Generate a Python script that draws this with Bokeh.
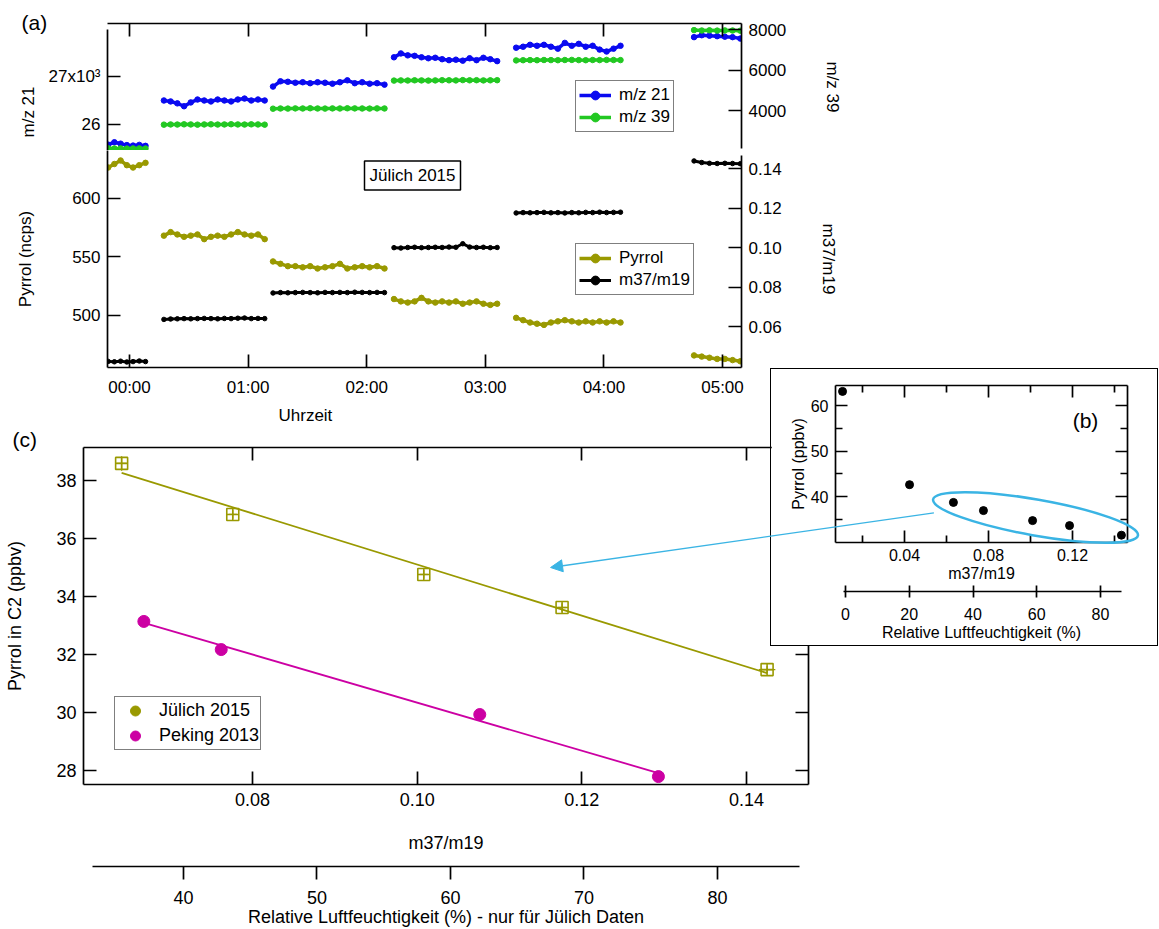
import numpy as np
from bokeh.plotting import figure
from bokeh.models import (Range1d, LinearAxis, FixedTicker, NumeralTickFormatter, Legend,
                          LegendItem, Label, Arrow, NormalHead, Whisker, ColumnDataSource, Title)
from bokeh.layouts import column, row
from bokeh.embed import file_html
from bokeh.resources import INLINE

FONT = "Liberation Sans"

# ---------------- data: panel (a) time series ----------------
seg_start = [-0.18, 0.29, 1.21, 2.23, 3.26, 4.76]     # hours
seg_end = [0.135, 1.14, 2.15, 3.10, 4.14, 5.15]

mz21 = [
    [25580, 25630, 25600, 25570, 25560, 25575, 25555],
    [26500, 26480, 26440, 26380, 26460, 26520, 26500, 26480, 26520, 26500, 26480, 26520, 26540, 26500, 26520, 26500],
    [26790, 26900, 26890, 26870, 26880, 26860, 26880, 26870, 26850, 26880, 26920, 26860, 26880, 26850, 26860, 26830],
    [27400, 27480, 27440, 27430, 27400, 27380, 27390, 27360, 27340, 27350, 27330, 27380, 27340, 27390, 27360, 27320],
    [27600, 27620, 27660, 27640, 27660, 27620, 27580, 27700, 27640, 27680, 27620, 27640, 27560, 27520, 27580, 27640],
    [27820, 27860, 27850, 27840, 27830, 27820, 27790],
]
mz39 = [
    [2130, 2120, 2125, 2115, 2120, 2125, 2118],
    [3300, 3310, 3305, 3315, 3310, 3300, 3310, 3315, 3305, 3310, 3320, 3310, 3305, 3315, 3310, 3300],
    [4090, 4100, 4095, 4105, 4100, 4110, 4100, 4095, 4105, 4100, 4110, 4105, 4100, 4095, 4105, 4100],
    [5480, 5490, 5485, 5495, 5490, 5480, 5490, 5500, 5495, 5490, 5505, 5495, 5500, 5490, 5495, 5500],
    [6480, 6490, 6495, 6490, 6500, 6495, 6490, 6500, 6505, 6495, 6490, 6500, 6495, 6505, 6500, 6495],
    [7980, 7960, 7970, 7955, 7965, 7960, 7950],
]
pyrrol_ncps = [
    [626, 629, 632, 628, 626, 628, 630],
    [568, 571, 569, 567, 568, 569, 565, 567, 568, 567, 569, 571, 569, 568, 569, 565],
    [546, 544, 542, 542, 541, 542, 540, 541, 542, 544, 540, 541, 542, 541, 542, 540],
    [514, 512, 511, 512, 515, 512, 511, 512, 511, 512, 510, 511, 512, 510, 509, 510],
    [498, 496, 494, 493, 492, 494, 495, 496, 495, 494, 495, 494, 495, 494, 495, 494],
    [466, 465, 464, 463, 463, 462, 461],
]
m37_m19 = [
    [0.0423, 0.0421, 0.0424, 0.0420, 0.0422, 0.0425, 0.0422],
    [0.0636, 0.0638, 0.0639, 0.0640, 0.0639, 0.0640, 0.0641, 0.0640, 0.0639, 0.0641, 0.0640, 0.0642, 0.0643, 0.0640, 0.0641, 0.0640],
    [0.0770, 0.0772, 0.0771, 0.0772, 0.0773, 0.0772, 0.0771, 0.0773, 0.0772, 0.0773, 0.0772, 0.0774, 0.0773, 0.0772, 0.0773, 0.0772],
    [0.1000, 0.0998, 0.1001, 0.1002, 0.1000, 0.1001, 0.1002, 0.1001, 0.1003, 0.1002, 0.1020, 0.1003, 0.1001, 0.1002, 0.1000, 0.1001],
    [0.1176, 0.1178, 0.1177, 0.1178, 0.1179, 0.1177, 0.1178, 0.1176, 0.1178, 0.1177, 0.1179, 0.1178, 0.1180, 0.1178, 0.1179, 0.1180],
    [0.1440, 0.1432, 0.1428, 0.1427, 0.1428, 0.1427, 0.1426],
]
time_ticks = [0, 1, 2, 3, 4, 5]
time_labels = ["00:00", "01:00", "02:00", "03:00", "04:00", "05:00"]

# ---------------- data: panel (c) ----------------
juelich_ratio = [0.0641, 0.0776, 0.1008, 0.1176, 0.1425]
juelich_ppbv = [38.59, 36.83, 34.76, 33.62, 31.48]
juelich_xerr = [0.0006, 0.0005, 0.0005, 0.0005, 0.0010]
juelich_yerr = [0.25, 0.15, 0.15, 0.15, 0.12]
peking_ratio = [0.0668, 0.0762, 0.1076, 0.1293]
peking_ppbv = [33.14, 32.17, 29.93, 27.79]

# ---------------- data: panel (b) ----------------
inset_ratio = [0.0105, 0.0424, 0.0633, 0.0776, 0.1010, 0.1186, 0.1433]
inset_ppbv = [63.1, 42.6, 38.7, 36.9, 34.7, 33.6, 31.5]

BLUE = "#0a0af0"
GREEN = "#22c822"
OLIVE = "#999900"
BLACK = "#000000"
MAGENTA = "#cc00a3"
CYAN = "#3ab4e4"

# ---------------- geometry (page pixels) ----------------
XR_TIME = (-0.1855, 5.1602)
YR_MZ21 = (25458, 28104)
YR_MZ39 = (2020, 8307)
YR_PYR = (455.7, 640.5)
YR_RAT = (0.0392, 0.1493)
FR_ATOP = (107, 741, 23, 150)
FR_ABOT = (107, 741, 150, 367)

XR_C = (0.05947, 0.14753)
YR_C = (27.517, 39.138)
XR_C_RH = (32.51, 86.82)
FR_C = (83, 808, 447, 784)

XR_B = (0.00714, 0.1462)
YR_B = (29.89, 64.40)
XR_B_RH = (-3.14, 88.47)
FR_B = (835, 1127, 385, 542)

PAGE_H = 929
B_LEFT, B_TOP, B_W, B_H = 771, 369, 386, 276
OV_BOX = (545, 1145, 480, 580)

BL_A, BR_A = 107, 110          # left/right borders of panel (a)
TOP_A = 26                     # top border of the top figure
BOT_A = 66                     # bottom border of the lower figure of (a)
BL_C, BR_C, TOP_C = 83, 12, 26


def to_page(x, y, fr, xr, yr):
    px = fr[0] + (x - xr[0]) / (xr[1] - xr[0]) * (fr[1] - fr[0])
    py = fr[3] - (y - yr[0]) / (yr[1] - yr[0]) * (fr[3] - fr[2])
    return px, py


def from_page(px, py, fr, xr, yr):
    x = xr[0] + (px - fr[0]) / (fr[1] - fr[0]) * (xr[1] - xr[0])
    y = yr[0] + (fr[3] - py) / (fr[3] - fr[2]) * (yr[1] - yr[0])
    return x, y


def base_fig(w, h, xr, yr, bl, br, bt, bb):
    p = figure(width=w, height=h, x_range=Range1d(*xr), y_range=Range1d(*yr),
               output_backend="svg", toolbar_location=None,
               x_axis_location=None, y_axis_location=None,
               min_border_left=bl, min_border_right=br, min_border_top=bt, min_border_bottom=bb)
    p.xgrid.visible = False
    p.ygrid.visible = False
    p.outline_line_color = None
    p.background_fill_color = "white"
    p.border_fill_color = "white"
    return p


def axis(ticks, minor=(), tick_in=13, tick_out=0, minor_in=0, fs="17px", standoff=7,
         show_labels=True, overrides=None, fmt=None, label=None, label_standoff=5,
         bounds="auto", lw=1.7, **kw):
    a = LinearAxis(ticker=FixedTicker(ticks=list(ticks), minor_ticks=list(minor)), **kw)
    a.major_tick_in = tick_in
    a.major_tick_out = tick_out
    a.minor_tick_in = minor_in
    a.minor_tick_out = 0
    a.axis_line_width = lw
    a.major_tick_line_width = lw
    a.minor_tick_line_width = lw
    a.major_label_text_font = FONT
    if show_labels:
        a.major_label_text_color = "black"
        a.major_label_text_font_size = fs
        a.major_label_standoff = standoff
    else:
        a.major_label_text_color = None
        a.major_label_text_font_size = "1px"
        a.major_label_standoff = 0
    if overrides:
        a.major_label_overrides = overrides
    if fmt:
        a.formatter = NumeralTickFormatter(format=fmt)
    if label is not None:
        a.axis_label = label
        a.axis_label_standoff = label_standoff
        a.axis_label_text_font = FONT
        a.axis_label_text_font_size = fs
        a.axis_label_text_font_style = "normal"
        a.axis_label_text_color = "black"
    a.bounds = bounds
    return a


def spacer(size, tick_at, **kw):
    """Invisible axis whose (white) tick only reserves vertical space."""
    a = LinearAxis(ticker=FixedTicker(ticks=[tick_at]), **kw)
    a.axis_line_color = None
    a.major_tick_line_color = "white"
    a.major_tick_in = 0
    a.major_tick_out = size
    a.major_label_text_color = None
    a.major_label_text_font_size = "1px"
    a.major_label_standoff = 0
    return a


def series_xy(segs):
    xs, ys = [], []
    for i, vals in enumerate(segs):
        t = np.linspace(seg_start[i], seg_end[i], len(vals))
        xs.extend(t.tolist())
        ys.extend(vals)
        if i < len(segs) - 1:
            xs.append(float("nan"))
            ys.append(float("nan"))
    return xs, ys


def text_label(p, px, py, fr, xr, yr, text, fs, align="center", **kw):
    x, y = from_page(px, py, fr, xr, yr)
    lab = Label(x=x, y=y, text=text, text_font=FONT, text_font_size=fs, text_color="black",
                text_align=align, text_baseline="middle", **kw)
    p.add_layout(lab)
    return lab


def make_title(text, fs, offset, standoff, valign="bottom"):
    return Title(text=text, text_font=FONT, text_font_size=fs, text_font_style="normal",
                 text_color="black", align="left", offset=offset, standoff=standoff,
                 vertical_align=valign)


def style_legend(leg, fs, pad, gh, gw, standoff):
    leg.border_line_color = "black"
    leg.border_line_width = 1.5
    leg.background_fill_color = "white"
    leg.background_fill_alpha = 1.0
    leg.label_text_font = FONT
    leg.label_text_font_size = fs
    leg.label_text_color = "black"
    leg.padding = pad
    leg.spacing = 0
    leg.margin = 0
    leg.glyph_height = gh
    leg.glyph_width = gw
    leg.label_height = gh
    leg.label_standoff = standoff


# ================= panel (a) top =================
a_top = base_fig(BL_A + 634 + BR_A, TOP_A + 127, XR_TIME, YR_MZ21, BL_A, BR_A, TOP_A, 0)
a_top.margin = (FR_ATOP[2] - TOP_A, 0, 0, 0)
a_top.title = make_title("(a)", "21px", 21 - FR_ATOP[0], -20)
a_top.extra_y_ranges = {"mz39": Range1d(*YR_MZ39)}
a_top.add_layout(axis(time_ticks, show_labels=False), "above")
a_top.add_layout(axis([26000, 27000], overrides={26000: "26", 27000: "27x10³"},
                      bounds=(YR_MZ21[0], 27979)), "left")
a_top.add_layout(make_title("m/z 21", "17px", 13, 16), "left")
a_top.add_layout(axis([4000, 6000, 8000], label="m/z 39", label_standoff=34,
                      bounds=(2119, YR_MZ39[1]), y_range_name="mz39"), "right")

x21, y21 = series_xy(mz21)
x39, y39 = series_xy(mz39)
l21 = a_top.line(x21, y21, line_color=BLUE, line_width=3.5)
s21 = a_top.scatter(x21, y21, marker="circle", size=5.5, color=BLUE)
l39 = a_top.line(x39, y39, line_color=GREEN, line_width=3.5, y_range_name="mz39")
s39 = a_top.scatter(x39, y39, marker="circle", size=5.5, color=GREEN, y_range_name="mz39")

leg_a1 = Legend(items=[LegendItem(label="m/z 21", renderers=[l21, s21]),
                       LegendItem(label="m/z 39", renderers=[l39, s39])],
                location=(468, 18))
style_legend(leg_a1, "17px", 3, 22, 32, 8)
a_top.add_layout(leg_a1)

# ================= panel (a) bottom =================
a_bot = base_fig(BL_A + 634 + BR_A, 217 + BOT_A, XR_TIME, YR_PYR, BL_A, BR_A, 0, BOT_A)
a_bot.x_range = a_top.x_range
a_bot.extra_y_ranges = {"ratio": Range1d(*YR_RAT)}
a_bot.add_layout(axis(time_ticks, overrides=dict(zip(time_ticks, time_labels)), standoff=10), "below")
a_bot.add_layout(make_title("Uhrzeit", "17px", 278 - FR_ABOT[0], 12, valign="top"), "below")
a_bot.add_layout(axis([500, 550, 600], label="Pyrrol (ncps)", label_standoff=34), "left")
a_bot.add_layout(axis([0.06, 0.08, 0.10, 0.12, 0.14], fmt="0.00", label="m37/m19", label_standoff=34,
                      bounds=(YR_RAT[0], 0.1468), y_range_name="ratio"), "right")

xp, yp = series_xy(pyrrol_ncps)
xr_, yr_ = series_xy(m37_m19)
lp = a_bot.line(xp, yp, line_color=OLIVE, line_width=3.5)
sp = a_bot.scatter(xp, yp, marker="circle", size=5.5, color=OLIVE)
lr = a_bot.line(xr_, yr_, line_color=BLACK, line_width=3.0, y_range_name="ratio")
sr = a_bot.scatter(xr_, yr_, marker="circle", size=4.5, color=BLACK, y_range_name="ratio")

leg_a2 = Legend(items=[LegendItem(label="Pyrrol", renderers=[lp, sp]),
                       LegendItem(label="m37/m19", renderers=[lr, sr])],
                location=(468, 72))
style_legend(leg_a2, "17px", 3, 22, 32, 8)
a_bot.add_layout(leg_a2)

text_label(a_bot, 364, 175, FR_ABOT, XR_TIME, YR_PYR, "Jülich 2015", "17px", align="left",
           border_line_color="black", border_line_width=1.5, background_fill_color="white",
           padding=5)

# ================= panel (c) =================
A_BOT_END = FR_ABOT[3] + BOT_A
C_TOP_PAGE = FR_C[2] - TOP_C
c = base_fig(BL_C + (FR_C[1] - FR_C[0]) + BR_C, PAGE_H - C_TOP_PAGE, XR_C, YR_C,
             BL_C, BR_C, TOP_C, PAGE_H - FR_C[3])
c.border_fill_alpha = 0.0
c.title = make_title("(c)", "21px", 12 - FR_C[0], -6)
c.extra_x_ranges = {"rh": Range1d(*XR_C_RH)}
c.add_layout(axis([28, 30, 32, 34, 36, 38], fs="18px", label="Pyrrol in C2 (ppbv)", label_standoff=28), "left")
c.add_layout(axis([28, 30, 32, 34, 36, 38], show_labels=False), "right")
c.add_layout(axis([0.08, 0.10, 0.12, 0.14], show_labels=False), "above")
c.add_layout(axis([0.08, 0.10, 0.12, 0.14], fmt="0.00", fs="18px", standoff=8,
                  label="m37/m19", label_standoff=24), "below")
c.add_layout(spacer(11, from_page(86, 0, FR_C, XR_C, YR_C)[0]), "below")
c.add_layout(axis([40, 50, 60, 70, 80], tick_in=0, tick_out=13, fs="18px", standoff=11,
                  label="Relative Luftfeuchtigkeit (%) - nur für Jülich Daten", label_standoff=0,
                  bounds=(33.18, 86.14), x_range_name="rh"), "below")

jx = np.array(juelich_ratio)
jy = np.array(juelich_ppbv)
jfit = np.polyfit(jx, jy, 1)
jfx = [jx.min(), jx.max()]
c.line(jfx, [np.polyval(jfit, v) for v in jfx], line_color=OLIVE, line_width=1.8)
px_ = np.array(peking_ratio)
py_ = np.array(peking_ppbv)
pfit = np.polyfit(px_, py_, 1)
pfx = [px_.min(), px_.max()]
c.line(pfx, [np.polyval(pfit, v) for v in pfx], line_color=MAGENTA, line_width=1.8)

jsrc = ColumnDataSource(dict(x=juelich_ratio, y=juelich_ppbv,
                             xl=[a - e for a, e in zip(juelich_ratio, juelich_xerr)],
                             xu=[a + e for a, e in zip(juelich_ratio, juelich_xerr)],
                             yl=[a - e for a, e in zip(juelich_ppbv, juelich_yerr)],
                             yu=[a + e for a, e in zip(juelich_ppbv, juelich_yerr)]))
c.add_layout(Whisker(source=jsrc, base="y", lower="xl", upper="xu", dimension="width",
                     line_color=OLIVE, line_width=1.3, upper_head=None, lower_head=None))
c.add_layout(Whisker(source=jsrc, base="x", lower="yl", upper="yu", dimension="height",
                     line_color=OLIVE, line_width=1.3, upper_head=None, lower_head=None))
c.scatter("x", "y", source=jsrc, marker="square_cross", size=12, fill_color=None,
          line_color=OLIVE, line_width=1.6)
jdot = c.scatter("x", "y", source=jsrc, marker="circle", size=1, color=OLIVE)
pdot = c.scatter(peking_ratio, peking_ppbv, marker="circle", size=12, color=MAGENTA)

leg_c = Legend(items=[LegendItem(label="Jülich 2015", renderers=[jdot]),
                      LegendItem(label="Peking 2013", renderers=[pdot])],
               location=(31, 34))
style_legend(leg_c, "18px", 1, 25, 38, 5)
c.add_layout(leg_c)

c_wrap = column(c)
c_wrap.margin = (C_TOP_PAGE - A_BOT_END, 0, 0, 0)

# ================= panel (b) =================
b = base_fig(B_W, B_H, XR_B, YR_B, FR_B[0] - B_LEFT, B_LEFT + B_W - FR_B[1],
             FR_B[2] - B_TOP, B_TOP + B_H - FR_B[3])
b.extra_x_ranges = {"rh": Range1d(*XR_B_RH)}
b.add_layout(axis([40, 50, 60], minor=[35, 45, 55], tick_in=12, minor_in=7, fs="16px", standoff=7,
                  label="Pyrrol (ppbv)", label_standoff=1), "left")
b.add_layout(axis([40, 50, 60], minor=[35, 45, 55], tick_in=12, minor_in=7, show_labels=False), "right")
b.add_layout(axis([0.04, 0.08, 0.12], minor=[0.02, 0.06, 0.10, 0.14], tick_in=12, minor_in=7,
                  show_labels=False), "above")
b.add_layout(axis([0.04, 0.08, 0.12], minor=[0.02, 0.06, 0.10, 0.14], tick_in=12, minor_in=7,
                  fmt="0.00", fs="16px", standoff=6, label="m37/m19", label_standoff=1), "below")
b.add_layout(spacer(7, from_page(838, 0, FR_B, XR_B, YR_B)[0]), "below")
b.add_layout(axis([0, 20, 40, 60, 80], tick_in=6, tick_out=6, fs="16px", standoff=10,
                  label="Relative Luftfeuchtigkeit (%)", label_standoff=1,
                  bounds=(-0.63, 86.6), x_range_name="rh"), "below")

b.scatter(inset_ratio, inset_ppbv, marker="circle", size=8, color=BLACK)
text_label(b, 1085, 420, FR_B, XR_B, YR_B, "(b)", "21px")

b.styles = {"outline": "1.5px solid black", "outline-offset": "0px"}

# ================= overlay: ellipse in (b) and arrow into (c) =================
ov = figure(width=OV_BOX[1] - OV_BOX[0], height=OV_BOX[3] - OV_BOX[2],
            x_range=Range1d(OV_BOX[0], OV_BOX[1]),
            y_range=Range1d(PAGE_H - OV_BOX[3], PAGE_H - OV_BOX[2]),
            output_backend="svg", toolbar_location=None,
            x_axis_location=None, y_axis_location=None,
            min_border_left=0, min_border_right=0, min_border_top=0, min_border_bottom=0)
ov.xgrid.visible = False
ov.ygrid.visible = False
ov.outline_line_color = None
ov.background_fill_alpha = 0.0
ov.border_fill_alpha = 0.0

ELL_CENTER_B = (0.1024, 35.4)       # in (b) data units
ELL_W, ELL_H, ELL_ANGLE = 208, 36, -10.0
ARROW_HEAD_C = (0.1162, 35.0)       # in (c) data units
ARROW_TAIL_B = (0.0540, 36.4)       # in (b) data units

ecx, ecy = to_page(*ELL_CENTER_B, FR_B, XR_B, YR_B)
ov.ellipse(x=[ecx], y=[PAGE_H - ecy], width=[ELL_W], height=[ELL_H], angle=np.deg2rad(ELL_ANGLE),
           width_units="screen", height_units="screen", fill_color=None,
           line_color=CYAN, line_width=2.5)
hx, hy = to_page(*ARROW_HEAD_C, FR_C, XR_C, YR_C)
tx, ty = to_page(*ARROW_TAIL_B, FR_B, XR_B, YR_B)
ov.add_layout(Arrow(x_start=tx, y_start=PAGE_H - ty, x_end=hx, y_end=PAGE_H - hy,
                    line_color=CYAN, line_width=1.3,
                    end=NormalHead(size=12, fill_color=CYAN, line_color=CYAN)))

# ================= layout =================
left_col = column(a_top, a_bot, c_wrap, spacing=0)
col_w = max(BL_A + 634 + BR_A, BL_C + (FR_C[1] - FR_C[0]) + BR_C)
b.margin = (B_TOP, 0, 0, B_LEFT - col_w)
ov_wrap = column(ov)
ov_wrap.margin = (OV_BOX[2], 0, 0, OV_BOX[0] - (B_LEFT + B_W))
root = row(left_col, b, ov_wrap, spacing=0)

open("out.html", "w").write(file_html(root, INLINE))
